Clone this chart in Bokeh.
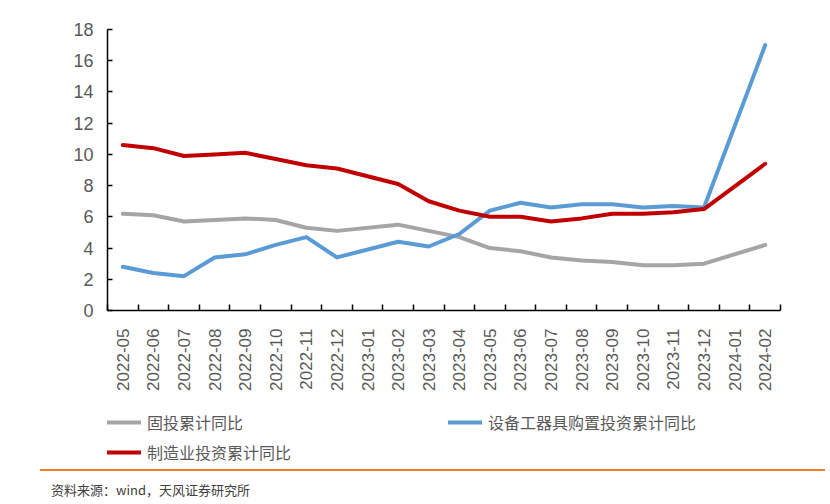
import math
from bokeh.plotting import figure
from bokeh.layouts import column
from bokeh.models import Range1d, FixedTicker, Legend, LegendItem, Div
from bokeh.embed import file_html
from bokeh.resources import INLINE

months = ["2022-05", "2022-06", "2022-07", "2022-08", "2022-09", "2022-10", "2022-11",
          "2022-12", "2023-01", "2023-02", "2023-03", "2023-04", "2023-05", "2023-06",
          "2023-07", "2023-08", "2023-09", "2023-10", "2023-11", "2023-12", "2024-01",
          "2024-02"]
fai = [6.2, 6.1, 5.7, 5.8, 5.9, 5.8, 5.3, 5.1, None, 5.5, 5.1, 4.7, 4.0, 3.8, 3.4, 3.2,
       3.1, 2.9, 2.9, 3.0, None, 4.2]
equip = [2.8, 2.4, 2.2, 3.4, 3.6, 4.2, 4.7, 3.4, None, 4.4, 4.1, 4.9, 6.4, 6.9, 6.6, 6.8,
         6.8, 6.6, 6.7, 6.6, None, 17.0]
mfg = [10.6, 10.4, 9.9, 10.0, 10.1, 9.7, 9.3, 9.1, None, 8.1, 7.0, 6.4, 6.0, 6.0, 5.7, 5.9,
       6.2, 6.2, 6.3, 6.5, None, 9.4]
names = ["固投累计同比", "设备工器具购置投资累计同比", "制造业投资累计同比"]
colors = ["#A5A5A5", "#5B9BD5", "#C00000"]
y_ticks = [0, 2, 4, 6, 8, 10, 12, 14, 16, 18]
source_text = "资料来源：wind，天风证券研究所"

idx = list(range(len(months)))
series = [fai, equip, mfg]

p = figure(width=830, height=400, output_backend="svg", toolbar_location=None,
           x_range=Range1d(-0.5, len(months) - 0.5), y_range=Range1d(0, 18),
           min_border_left=107, min_border_right=50, min_border_top=29,
           min_border_bottom=90)
p.outline_line_color = None
p.xgrid.visible = False
p.ygrid.visible = False
p.background_fill_color = "white"
p.border_fill_color = "white"


def pts(vals):
    xs = [i for i, v in zip(idx, vals) if v is not None]
    ys = [v for v in vals if v is not None]
    return xs, ys


line_style = dict(line_width=4, line_cap="round", line_join="round")
for vals, c in zip(series, colors):
    xs, ys = pts(vals)
    p.line(xs, ys, line_color=c, **line_style)

# y axis
p.yaxis.ticker = FixedTicker(ticks=y_ticks)
p.yaxis.axis_line_color = "black"
p.yaxis.axis_line_width = 1.5
p.yaxis.major_tick_in = 5
p.yaxis.major_tick_out = 0
p.yaxis.major_tick_line_color = "black"
p.yaxis.major_tick_line_width = 1.5
p.yaxis.minor_tick_line_color = None
p.yaxis.major_label_standoff = 14
p.yaxis.major_label_text_font = "Liberation Sans"
p.yaxis.major_label_text_font_size = "18px"
p.yaxis.major_label_text_color = "#595959"

# x axis
p.xaxis.ticker = FixedTicker(ticks=idx, minor_ticks=[i - 0.5 for i in range(len(months) + 1)])
p.xaxis.major_label_overrides = {i: m for i, m in zip(idx, months)}
p.xaxis.major_label_orientation = math.pi / 2
p.xaxis.axis_line_color = "black"
p.xaxis.axis_line_width = 1.5
p.xaxis.major_tick_line_color = None
p.xaxis.minor_tick_line_color = "black"
p.xaxis.minor_tick_line_width = 1.5
p.xaxis.minor_tick_in = 6
p.xaxis.minor_tick_out = 0
p.xaxis.major_label_standoff = 12
p.xaxis.major_label_text_font = "Liberation Sans"
p.xaxis.major_label_text_font_size = "17px"
p.xaxis.major_label_text_color = "#595959"

# legend panel (its own small figure so the legend is not clipped by the chart frame)
pl = figure(width=830, height=69, output_backend="svg", toolbar_location=None,
            x_range=Range1d(-0.5, len(months) - 0.5), y_range=Range1d(0, 18),
            min_border_left=107, min_border_right=50, min_border_top=0, min_border_bottom=0)
pl.axis.visible = False
pl.grid.visible = False
pl.outline_line_color = None
pl.background_fill_color = "white"
pl.border_fill_color = "white"
leg_renderers = []
for vals, c in zip(series, colors):
    xs, ys = pts(vals)
    leg_renderers.append(pl.line(xs, ys, line_color=c, visible=False, **line_style))

legend = Legend(
    items=[LegendItem(label=n, renderers=[r]) for n, r in zip(names, leg_renderers)],
    location=(0, 5), orientation="horizontal", ncols=2,
    glyph_width=34, glyph_height=20, label_height=20, label_width=295,
    label_standoff=6, spacing=6, padding=0, margin=0,
    border_line_color=None, background_fill_alpha=0,
    inactive_fill_alpha=0,
    label_text_font="Noto Sans CJK SC", label_text_font_size="16px",
    label_text_color="#595959")
pl.add_layout(legend, "center")

source = Div(
    text=('<div style="width:785px;box-sizing:border-box;border-top:2px solid #ED7D31;'
          'padding:10px 0 0 11px;font-family:\'Noto Sans CJK SC\';font-size:13px;'
          'color:#404040;line-height:18px;white-space:nowrap;">' + source_text + '</div>'),
    width=790, height=35, margin=(0, 0, 0, 40))

layout = column(p, pl, source, spacing=0)
open("out.html", "w").write(file_html(layout, INLINE))
